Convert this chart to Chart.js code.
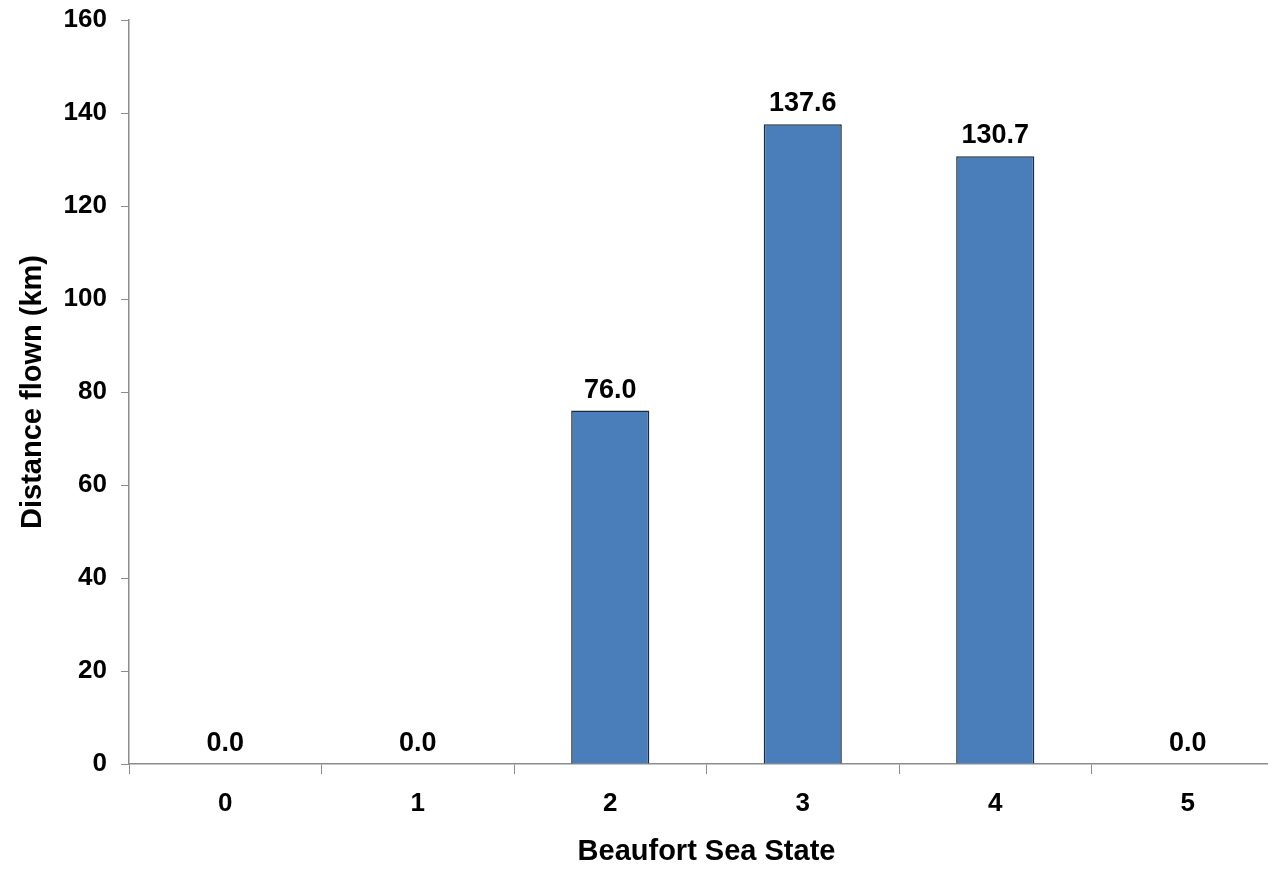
<!DOCTYPE html>
<html>
<head>
<meta charset="utf-8">
<script src="https://cdn.jsdelivr.net/npm/chart.js"></script>
<style>
  html, body { margin: 0; padding: 0; background: #fff; overflow: hidden; }
  #wrap { width: 1284px; height: 869px; }
</style>
</head>
<body>
<div id="wrap"><canvas id="chart"></canvas></div>
<script>
// chart data
const seaStates = ['0', '1', '2', '3', '4', '5'];
const distanceKm = [0.0, 0.0, 76.0, 137.6, 130.7, 0.0];
const yTicks = [0, 20, 40, 60, 80, 100, 120, 140, 160];

const FONT = '"Liberation Sans", Arial, sans-serif';
const AXIS = '#8c8c8c';

// draws the value above each bar, like Excel's data labels
const valueLabels = {
  id: 'valueLabels',
  afterDatasetsDraw(chart) {
    const ctx = chart.ctx;
    const meta = chart.getDatasetMeta(0);
    ctx.save();
    ctx.font = 'bold 27px ' + FONT;
    ctx.fillStyle = '#000';
    ctx.textAlign = 'center';
    ctx.textBaseline = 'bottom';
    meta.data.forEach((bar, i) => {
      ctx.fillText(distanceKm[i].toFixed(1), bar.x, bar.y - 7);
    });
    ctx.restore();
  }
};

new Chart(document.getElementById('chart'), {
  type: 'bar',
  data: {
    labels: seaStates,
    datasets: [{
      data: distanceKm,
      backgroundColor: '#4A7EBB',
      borderColor: '#1c2a3a',
      borderWidth: 1.5,
      categoryPercentage: 1.0,
      barPercentage: 0.406
    }]
  },
  options: {
    responsive: true,
    maintainAspectRatio: false,
    animation: false,
    layout: { padding: { top: 20, right: 0, bottom: 0, left: 0 } },
    plugins: { legend: { display: false }, tooltip: { enabled: false } },
    scales: {
      x: {
        grid: { display: true, offset: true, drawOnChartArea: false, drawTicks: true, tickLength: 10, color: AXIS },
        border: { display: true, color: AXIS, width: 1.5 },
        ticks: { color: '#000', font: { family: FONT, size: 26, weight: 'bold' }, padding: 14 },
        title: { display: true, text: 'Beaufort Sea State', color: '#000',
                 font: { family: FONT, size: 29, weight: 'bold' }, padding: { top: 10, bottom: 0 } },
        afterFit(scale) { scale.height = 105; }
      },
      y: {
        min: 0, max: 160,
        afterBuildTicks(scale) { scale.ticks = yTicks.map(v => ({ value: v })); },
        grid: { display: true, drawOnChartArea: false, drawTicks: true, tickLength: 8, color: AXIS },
        border: { display: true, color: AXIS, width: 1.5 },
        ticks: { color: '#000', font: { family: FONT, size: 26, weight: 'bold' }, padding: 14 },
        title: { display: true, text: 'Distance flown (km)', color: '#000',
                 font: { family: FONT, size: 29, weight: 'bold' }, padding: { top: 16, bottom: 10 } },
        afterFit(scale) { scale.width = 129; scale.paddingTop = 0; scale.paddingBottom = 0; }
      }
    }
  },
  plugins: [valueLabels]
});
</script>
</body>
</html>
